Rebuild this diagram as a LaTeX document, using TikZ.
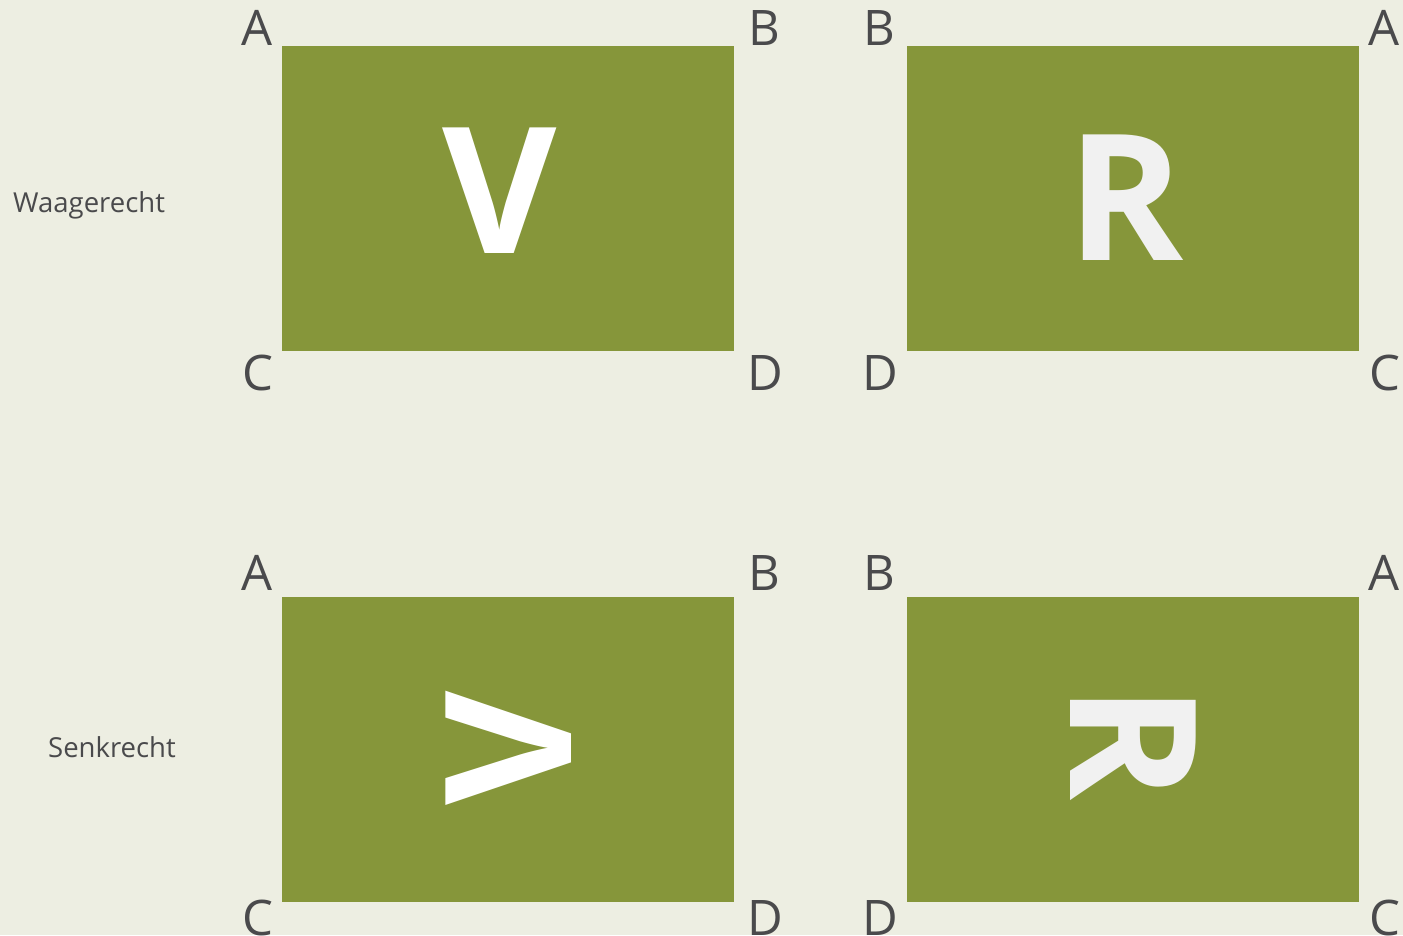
\documentclass[tikz,border=0pt]{standalone}
\usepackage{fontspec}
\setmainfont{Open Sans}
\definecolor{bg}{HTML}{EDEEE2}
\definecolor{leaf}{HTML}{86963A}
\definecolor{ink}{HTML}{4A4A4C}
\definecolor{paleR}{HTML}{F1F1F1}
\begin{document}
\begin{tikzpicture}[x=1pt,y=-1pt,
  card/.style={fill=leaf,draw=none},
  corner/.style={text=ink,inner sep=0pt,anchor=base,font=\fontsize{49}{49}\selectfont},
  side/.style={text=ink,inner sep=0pt,anchor=base west,font=\fontsize{27.5}{27.5}\selectfont},
  big/.style={inner sep=0pt,font=\bfseries\fontsize{176}{176}\selectfont}]
\fill[bg] (0,0) rectangle (1403,935);
\useasboundingbox (0,0) rectangle (1403,935);
% cards
\path[card] (282,46) rectangle (734,351);
\path[card] (907,46) rectangle (1359,351);
\path[card] (282,597) rectangle (734,902);
\path[card] (907,597) rectangle (1359,902);
% side labels
\node[side] (w) at (13,212) {Waagerecht};
\node[side] (s) at (48,757) {Senkrecht};
% corner labels top row
\node[corner] (a1) at (257,45) {A};
\node[corner] (b1) at (764,45) {B};
\node[corner] (c1) at (258,390) {C};
\node[corner] (d1) at (765,390) {D};
\node[corner] (b2) at (879,45) {B};
\node[corner] (a2) at (1384,45) {A};
\node[corner] (d2) at (880,390) {D};
\node[corner] (c2) at (1385,390) {C};
% corner labels bottom row
\node[corner] (a3) at (257,590) {A};
\node[corner] (b3) at (764,590) {B};
\node[corner] (c3) at (258,935) {C};
\node[corner] (d3) at (765,935) {D};
\node[corner] (b4) at (879,590) {B};
\node[corner] (a4) at (1384,590) {A};
\node[corner] (d4) at (880,935) {D};
\node[corner] (c4) at (1385,935) {C};
% big letters
\node[big,text=white] (v1) at (500,191) {V};
\node[big,text=paleR] (r1) at (1126,198) {R};
\node[big,text=white,rotate=90] (v2) at (509,748) {V};
\node[big,text=paleR,rotate=-90] (r2) at (1133,743) {R};
\end{tikzpicture}
\end{document}
